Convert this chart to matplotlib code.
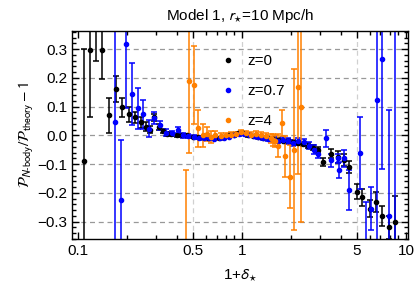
import numpy as np
import matplotlib
matplotlib.use("Agg")
import matplotlib.pyplot as plt
from matplotlib.lines import Line2D
from matplotlib.ticker import FixedLocator, MultipleLocator, LogLocator, NullFormatter, FuncFormatter

plt.rcParams['font.family'] = ['Liberation Sans', 'DejaVu Sans']
plt.rcParams['mathtext.fontset'] = 'stixsans'

# z = 0 (black)
x_z0 = [0.109, 0.118, 0.129, 0.140, 0.155, 0.171, 0.186, 0.206, 0.224, 0.243,
        0.26, 0.275, 0.292, 0.31, 0.33, 0.35, 0.37, 0.40, 0.43, 0.46,
        0.50, 0.54, 0.58, 0.62, 0.67, 0.72, 0.77, 0.83, 0.89, 0.95,
        1.02, 1.09, 1.17, 1.25, 1.34, 1.44, 1.54, 1.65, 1.77, 1.90,
        2.04, 2.19, 2.35, 2.52, 2.70, 2.90, 3.13, 3.47, 3.83, 4.17,
        4.47, 5.00, 5.37, 6.01, 6.55, 7.13, 7.87, 8.56]
y_z0 = [-0.09, 0.296, 0.45, 0.296, 0.070, 0.16, 0.098, 0.073, 0.063, 0.045,
        0.03, 0.02, 0.063, 0.03, 0.015, 0.005, 0.005, 0.0, 0.0, 0.0,
        -0.005, -0.005, -0.005, -0.008, -0.01, -0.008, -0.005, 0.0, 0.003, 0.008,
        0.008, 0.0, -0.002, -0.005, -0.008, -0.01, -0.012, -0.015, -0.018, -0.02,
        -0.022, -0.025, -0.03, -0.035, -0.042, -0.05, -0.092, -0.063, -0.075, -0.085,
        -0.11, -0.195, -0.215, -0.255, -0.23, -0.28, -0.32, -0.30]
e_z0 = [0.39, 0.233, 0.19, 0.10, 0.06, 0.045, 0.033, 0.025, 0.02, 0.02,
        0.015, 0.012, 0.012, 0.01, 0.008, 0.007, 0.006, 0.005, 0.005, 0.005,
        0.004, 0.004, 0.004, 0.004, 0.004, 0.004, 0.004, 0.004, 0.004, 0.004,
        0.004, 0.004, 0.004, 0.004, 0.005, 0.005, 0.005, 0.006, 0.006, 0.006,
        0.007, 0.007, 0.008, 0.008, 0.009, 0.01, 0.013, 0.015, 0.02, 0.02,
        0.02, 0.025, 0.03, 0.03, 0.035, 0.035, 0.04, 0.09]

# z = 0.7 (blue)
x_z07 = [0.169, 0.184, 0.197, 0.214, 0.233, 0.250, 0.273, 0.292, 0.318, 0.346,
         0.377, 0.41, 0.44, 0.47, 0.51, 0.55, 0.59, 0.63, 0.68, 0.73,
         0.78, 0.84, 0.90, 0.96, 1.03, 1.10, 1.18, 1.26, 1.35, 1.45,
         1.56, 1.67, 1.79, 1.92, 2.06, 2.20, 2.40, 2.58, 2.77, 2.93,
         3.24, 3.47, 3.83, 3.90, 4.17, 4.47, 5.22, 5.68, 6.10, 6.64,
         7.13, 7.87, 8.56]
y_z07 = [0.045, -0.226, 0.317, 0.143, 0.094, 0.073, 0.024, 0.06, 0.035, 0.01,
         0.007, 0.02, 0.0, -0.002, -0.005, -0.008, -0.01, -0.01, -0.012, -0.01,
         -0.008, -0.004, 0.0, 0.004, 0.005, 0.002, -0.002, -0.006, -0.01, -0.012,
         -0.015, -0.02, -0.015, -0.02, -0.025, -0.02, -0.024, -0.035, -0.049, -0.063,
         -0.01, -0.087, -0.08, -0.12, -0.08, -0.19, -0.06, -0.43, -0.255, 0.122,
         0.265, -0.28, 0.5]
e_z07 = [0.62, 0.21, 0.22, 0.108, 0.07, 0.05, 0.03, 0.02, 0.015, 0.012,
         0.01, 0.01, 0.008, 0.006, 0.005, 0.005, 0.005, 0.005, 0.005, 0.005,
         0.005, 0.005, 0.005, 0.005, 0.005, 0.005, 0.005, 0.006, 0.006, 0.007,
         0.008, 0.008, 0.009, 0.01, 0.01, 0.012, 0.012, 0.013, 0.015, 0.015,
         0.03, 0.022, 0.015, 0.027, 0.03, 0.07, 0.125, 0.2, 0.075, 0.62,
         0.38, 0.37, 1.0]

# z = 4 (orange)
x_z4 = [0.455, 0.479, 0.508, 0.537, 0.576, 0.61, 0.645, 0.69, 0.743, 0.80,
        0.856, 0.92, 0.986, 1.06, 1.14, 1.22, 1.31, 1.40, 1.51, 1.55,
        1.60, 1.66, 1.76, 1.84, 1.97, 2.08, 2.21, 2.30]
y_z4 = [-0.5, 0.19, 0.175, 0.025, 0.0, 0.005, -0.005, 0.0, -0.003, 0.0,
        0.003, 0.005, 0.012, 0.008, 0.003, 0.005, 0.003, -0.003, -0.01, -0.015,
        -0.02, -0.035, 0.042, -0.073, -0.143, -0.05, 0.167, 0.1]
e_z4 = [0.38, 0.25, 0.135, 0.065, 0.04, 0.025, 0.02, 0.015, 0.012, 0.01,
        0.008, 0.008, 0.008, 0.008, 0.008, 0.01, 0.01, 0.012, 0.015, 0.02,
        0.02, 0.04, 0.045, 0.07, 0.11, 0.28, 0.30, 0.40]

labels = ["z=0", "z=0.7", "z=4"]
colors = ["black", "#0000ff", "#ff8000"]

fig = plt.figure(figsize=(4.15, 2.9), dpi=100)
ax = fig.add_axes([72 / 415, 1 - 239 / 290, 336 / 415, 208 / 290])

# grid lines
for yv in np.arange(-0.3, 0.31, 0.1):
    ax.axhline(yv, color="#999999", lw=0.9, ls=(0, (4, 3)), zorder=0)
for xv in [0.5, 1, 5]:
    ax.axvline(xv, color="#d0d0d0", lw=0.9, ls=(0, (4, 3)), zorder=0)

for xs, ys, es, c in zip([x_z0, x_z07, x_z4], [y_z0, y_z07, y_z4], [e_z0, e_z07, e_z4], colors):
    ax.errorbar(xs, ys, yerr=es, fmt="o", color=c, ms=3, lw=1.1, capsize=2.2,
                capthick=1.1, elinewidth=1.1)

ax.set_xscale("log")
ax.set_xlim(0.092, 10.3)
ax.set_ylim(-0.36, 0.363)

ax.xaxis.set_major_locator(FixedLocator([0.1, 0.5, 1, 5, 10]))
ax.xaxis.set_major_formatter(FuncFormatter(lambda v, p: "%g" % v))
ax.xaxis.set_minor_locator(LogLocator(base=10, subs=np.arange(2, 10)))
ax.xaxis.set_minor_formatter(NullFormatter())
ax.yaxis.set_major_locator(MultipleLocator(0.1))
ax.yaxis.set_minor_locator(MultipleLocator(0.02))
ax.yaxis.set_major_formatter(FuncFormatter(lambda v, p: ("%.1f" % v).replace("-", "\u2212") if abs(v) > 1e-9 else "0.0"))

ax.tick_params(which="both", direction="in", top=True, right=True, labelsize=11, width=1)
ax.tick_params(which="major", length=5)
ax.tick_params(which="minor", length=3)
for s in ax.spines.values():
    s.set_linewidth(1)

ax.set_title(r"Model 1, $r_{\star}$=10 Mpc/h", fontsize=11, pad=8)
ax.set_xlabel(r"1+$\delta_{\star}$", fontsize=11, labelpad=6)
ax.set_ylabel(r"$\mathcal{P}_{N\text{-body}}/\mathcal{P}_{\mathrm{theory}}-1$", fontsize=11, labelpad=1)

handles = [Line2D([], [], ls="none", marker="o", ms=3, color=c) for c in colors]
ax.legend(handles, labels, loc="upper left", bbox_to_anchor=(0.40, 0.955), frameon=False,
          fontsize=11, labelspacing=1.05, handlelength=1.0, handletextpad=0.8)

fig.savefig("out.png", dpi=100)
